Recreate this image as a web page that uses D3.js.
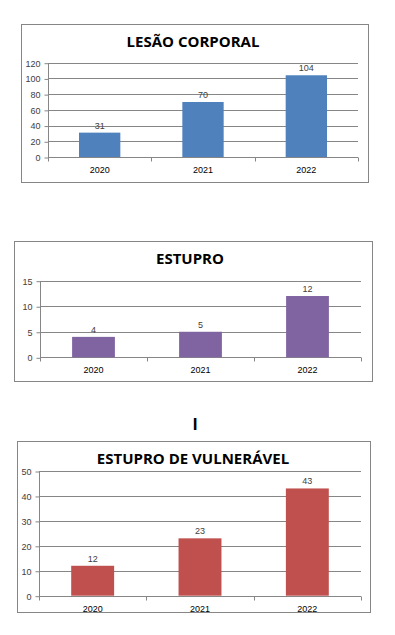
<!DOCTYPE html>
<html>
<head>
<meta charset="utf-8">
<script src="https://cdn.jsdelivr.net/npm/d3@7"></script>
<style>
  body { margin: 0; background: #fff; }
  .tick text { font-family: "Liberation Sans", Arial, sans-serif; font-size: 9px; fill: #404040; }
</style>
</head>
<body>
<div id="chart"></div>
<script>
var years = ['2020', '2021', '2022'];

var lesaoValues = [31, 70, 104];
var lesaoTicks = [0, 20, 40, 60, 80, 100, 120];

var estuproValues = [4, 5, 12];
var estuproTicks = [0, 5, 10, 15];

var vulneravelValues = [12, 23, 43];
var vulneravelTicks = [0, 10, 20, 30, 40, 50];

var svg = d3.select('#chart')
  .append('svg')
  .attr('width', 395)
  .attr('height', 635);

svg.append('rect').attr('width', 395).attr('height', 635).attr('fill', '#fff');

// one excel-looking chart in a grey frame
function createBarChart(opt) {
  var g = svg.append('g');

  g.append('rect')
    .attr('x', opt.frame[0] + 0.5)
    .attr('y', opt.frame[1] + 0.5)
    .attr('width', opt.frame[2] - opt.frame[0])
    .attr('height', opt.frame[3] - opt.frame[1])
    .attr('fill', '#fff')
    .attr('stroke', '#868686');

  g.append('text')
    .attr('x', opt.titleX)
    .attr('y', opt.titleY)
    .attr('text-anchor', 'middle')
    .style('font-family', '"Open Sans", sans-serif')
    .style('font-weight', 'bold')
    .style('font-size', '15px')
    .style('fill', '#000')
    .text(opt.title);

  var x = d3.scaleBand().domain(years).range([opt.left, opt.right]);
  var y = d3.scaleLinear().domain([0, d3.max(opt.ticks)]).range([opt.bottom, opt.top]);

  // gridlines
  g.selectAll('.grid')
    .data(opt.ticks.slice(1))
    .enter().append('line')
    .attr('x1', opt.left)
    .attr('x2', opt.right)
    .attr('y1', function(d) { return Math.round(y(d)) + 0.5; })
    .attr('y2', function(d) { return Math.round(y(d)) + 0.5; })
    .attr('stroke', '#868686');

  // y axis
  var yAxis = g.append('g')
    .attr('transform', 'translate(' + (opt.left + 0.5) + ',0.5)')
    .call(d3.axisLeft(y).tickValues(opt.ticks).tickSize(4).tickPadding(4));
  yAxis.selectAll('path, line').attr('stroke', '#868686');
  yAxis.select('.domain').attr('d', 'M0,' + Math.round(opt.top) + 'V' + Math.round(opt.bottom));

  // x axis with ticks between categories
  var xAxis = g.append('g')
    .attr('transform', 'translate(0,' + (Math.round(opt.bottom) + 0.5) + ')');
  xAxis.append('line')
    .attr('x1', opt.left).attr('x2', opt.right)
    .attr('stroke', '#868686');
  var edges = years.map(function(d) { return x(d); }).concat([opt.right]);
  xAxis.selectAll('.xt')
    .data(edges)
    .enter().append('line')
    .attr('x1', function(d) { return Math.round(d) + 0.5; })
    .attr('x2', function(d) { return Math.round(d) + 0.5; })
    .attr('y1', 0).attr('y2', 4)
    .attr('stroke', '#868686');
  xAxis.selectAll('.xl')
    .data(years)
    .enter().append('text')
    .attr('x', function(d) { return x(d) + x.bandwidth() / 2; })
    .attr('y', 15)
    .attr('text-anchor', 'middle')
    .style('font-family', '"Liberation Sans", Arial, sans-serif')
    .style('font-size', '9px')
    .style('fill', '#000')
    .text(function(d) { return d; });

  // bars
  var bw = x.bandwidth() * 0.4;
  g.selectAll('.bar')
    .data(opt.values)
    .enter().append('rect')
    .attr('x', function(d, i) { return x(years[i]) + x.bandwidth() / 2 - bw / 2; })
    .attr('y', function(d) { return y(d); })
    .attr('width', bw)
    .attr('height', function(d) { return opt.bottom - y(d); })
    .attr('fill', opt.color);

  // data labels
  g.selectAll('.lbl')
    .data(opt.values)
    .enter().append('text')
    .attr('x', function(d, i) { return x(years[i]) + x.bandwidth() / 2; })
    .attr('y', function(d) { return y(d) - 4; })
    .attr('text-anchor', 'middle')
    .style('font-family', '"Liberation Sans", Arial, sans-serif')
    .style('font-size', '9px')
    .style('fill', '#404040')
    .text(function(d) { return d; });
}

createBarChart({
  title: 'LESÃO CORPORAL', values: lesaoValues, ticks: lesaoTicks, color: '#4F81BD',
  frame: [21, 24, 368, 182], titleX: 193, titleY: 47,
  left: 48, right: 358, top: 62.7, bottom: 157
});

createBarChart({
  title: 'ESTUPRO', values: estuproValues, ticks: estuproTicks, color: '#8064A2',
  frame: [14, 241, 372, 381], titleX: 190, titleY: 264,
  left: 40, right: 361, top: 280.7, bottom: 357.3
});

svg.append('text')
  .attr('x', 195).attr('y', 430)
  .attr('text-anchor', 'middle')
  .style('font-family', '"Liberation Sans", Arial, sans-serif')
  .style('font-weight', 'bold')
  .style('font-size', '17px')
  .text('I');

createBarChart({
  title: 'ESTUPRO DE VULNERÁVEL', values: vulneravelValues, ticks: vulneravelTicks, color: '#C0504D',
  frame: [17, 441, 370, 612], titleX: 193, titleY: 464,
  left: 39, right: 361, top: 471, bottom: 595.7
});
</script>
</body>
</html>
